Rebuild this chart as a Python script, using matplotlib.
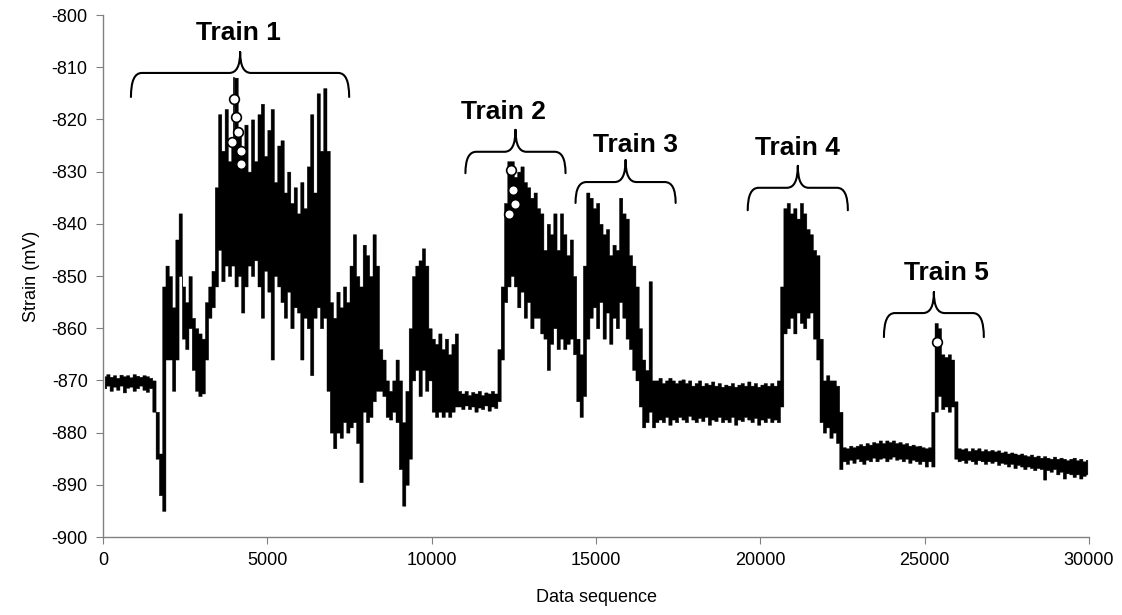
import numpy as np
import matplotlib
matplotlib.use("Agg")
import matplotlib.pyplot as plt
from matplotlib.path import Path
from matplotlib.patches import PathPatch

plt.rcParams['axes.unicode_minus'] = False

# ---- data: upper / lower envelope of the strain trace (mV) for each block of 100 samples ----
block = 100
hi_start = [-869.2, -868.8, -869.3, -869, -869.5, -868.9, -869.2, -869, -869.4, -868.8,
            -869.1, -869.3, -869, -869.2, -869.5, -870, -876, -884, -852, -848,
            -850, -856, -843, -838, -852, -855, -850, -858, -860, -861,
            -862, -855, -852, -849, -833, -819]
lo_start = [-871.5, -871, -872, -871.2, -871.8, -871, -872.3, -871.4, -871.2, -872,
            -871.5, -871, -871.8, -872.2, -871.5, -876, -885, -892, -895, -866,
            -866, -872, -866, -850, -862, -864, -860, -868, -872, -873,
            -872.5, -866, -858, -856, -852, -845]
hi_train1 = [-826, -818, -828, -824, -812, -822, -826, -821, -830, -820,
             -828, -819, -817, -827, -822, -818, -832, -825, -824, -834,
             -830, -836, -833, -838, -832, -837, -829, -819, -834, -815,
             -826, -814]
lo_train1 = [-851, -848, -850, -848, -852, -850, -857, -852, -848, -850,
             -847, -852, -858, -849, -853, -866, -850, -852, -855, -858,
             -853, -860, -856, -857, -866, -858, -860, -869, -858, -856,
             -860, -858]
hi_mid = [-826, -855, -858, -853, -856, -852, -855, -848, -842, -850,
          -852, -844, -846, -850, -842, -848, -864, -866, -870, -872,
          -870, -866, -870, -878, -872, -860, -850, -848, -847, -844.7,
          -848, -860, -862, -863, -861, -864, -862, -865, -863, -861]
lo_mid = [-872, -880, -883, -880, -881, -878, -880, -879, -878, -882,
          -889.5, -876, -878, -877, -874, -872, -872, -873, -877, -877.5,
          -876, -878, -887, -894, -890, -885, -870, -868, -873, -868,
          -872, -870, -876, -877, -876, -877, -876, -877, -876, -875]
hi_flat1 = [-872, -872.5, -872, -872.8, -872.2, -872.5, -872, -872.8, -872.3, -872.5,
            -872, -872.5]
lo_flat1 = [-875, -875.5, -874.8, -875.5, -875, -876, -875.2, -875.5, -874.8, -875.8,
            -875, -875.3]
hi_train2 = [-864, -852, -836, -828, -828, -831, -830, -829, -832, -833,
             -835, -834, -837, -838, -845, -840, -842, -838, -845, -838,
             -842, -846, -843, -850, -862, -865, -848, -834]
lo_train2 = [-874, -866, -855, -852, -850, -852, -856, -853, -858, -855,
             -860, -858, -858, -861, -862, -868, -863, -860, -864, -862,
             -864, -863, -862, -865, -874, -877, -873, -862]
hi_train3 = [-835, -837, -836, -840, -842, -841, -846, -844, -845, -835,
             -838, -839, -846, -848, -852, -860, -866, -868, -851, -870]
lo_train3 = [-858, -856, -860, -855, -862, -857, -863, -858, -860, -855,
             -858, -862, -864, -868, -870, -875, -879, -878, -876, -879]
hi_flat2 = [-870, -869.5, -870.5, -870, -869.5, -870, -870.5, -870, -869.8, -870.5,
            -870, -871, -870.5, -870, -871, -870.5, -870.8, -870.2, -871, -870.5,
            -871.2, -870.8, -871, -870.5, -871.2, -870.8, -870.5, -871, -870.2, -871,
            -870.5, -871.2, -870.8, -870.5, -871, -870.5, -871, -870]
lo_flat2 = [-878, -877.5, -878, -877, -878.5, -877.5, -878, -877, -877.5, -878,
            -876.8, -877.5, -878, -877.2, -877.8, -877, -878.5, -877.5, -877.8, -877,
            -878, -877.5, -878, -877, -878.5, -877.5, -877.8, -877, -877.5, -878,
            -877.2, -878.5, -877.5, -878, -877.2, -878, -877.5, -878]
hi_train4 = [-852, -837, -836, -838, -837, -839, -836, -838, -841, -842,
             -845, -846, -862, -870, -869, -870, -870, -871, -876]
lo_train4 = [-875, -861, -860, -858, -861, -857, -859, -860, -858, -857,
             -862, -866, -878, -880, -879, -881, -880, -882, -887]
hi_flat3 = [-882.8, -883, -882.5, -882.8, -882.5, -882.2, -882.5, -882, -882.3, -881.8,
            -882, -881.5, -882, -881.5, -881.8, -881.5, -882, -881.8, -882.2, -882,
            -882.5, -882.3, -882.6, -882.5, -882.8, -883, -882.8]
lo_flat3 = [-885.5, -886, -885.2, -885.8, -885, -885.5, -886, -885.2, -885.5, -884.8,
            -885.5, -885, -884.8, -885.5, -885, -884.6, -885.2, -885, -885.5, -885,
            -885.8, -885.2, -885.5, -886, -885.5, -886.5, -885.5]
hi_train5 = [-876, -859, -860, -865, -865.5, -865, -866, -874]
lo_train5 = [-886.5, -876, -873, -875.5, -875, -876, -875, -885]
hi_flat4 = [-883, -883.2, -883, -883.5, -883, -883.3, -883, -883.5, -883.2, -883.5,
            -883.3, -883.6, -883.4, -883.8, -883.6, -884, -883.8, -884, -884.2, -884,
            -884.3, -884.5, -884.2, -884.6, -884.4, -884.8, -884.5, -884.8, -885, -884.6,
            -885, -884.8, -885, -885.3, -885, -884.8, -885.3, -885, -885.5, -885.2]
lo_flat4 = [-885.5, -885.3, -885.8, -885.2, -885.5, -886, -885.3, -885.5, -886, -885.5,
            -885.8, -885.5, -886.2, -885.8, -886, -886.5, -886, -886.8, -886.2, -886.5,
            -887, -886.5, -886.8, -887.2, -886.8, -887, -889, -887.2, -887.5, -887,
            -888, -887.5, -888.8, -887.8, -888, -888.5, -888, -888.8, -888.3, -888]

strain_hi = np.array(hi_start + hi_train1 + hi_mid + hi_flat1 + hi_train2 +
                     hi_train3 + hi_flat2 + hi_train4 + hi_flat3 + hi_train5 + hi_flat4)
strain_lo = np.array(lo_start + lo_train1 + lo_mid + lo_flat1 + lo_train2 +
                     lo_train3 + lo_flat2 + lo_train4 + lo_flat3 + lo_train5 + lo_flat4)
sequence = np.arange(len(strain_hi)) * block + block / 2

# marked peaks (white circles)
peak_seq = [4000, 4040, 4110, 3930, 4200, 4200, 12400, 12480, 12550, 12350, 25390]
peak_strain = [-816, -819.6, -822.5, -824.3, -826, -828.5, -829.7, -833.5, -836.3, -838.2, -862.6]

train_labels = ["Train 1", "Train 2", "Train 3", "Train 4", "Train 5"]

# ---- figure ----
fig = plt.figure(figsize=(11.22, 6.15), dpi=100)
ax = fig.add_axes([0.0918, 0.1268, 0.8788, 0.8488])
fam = ['Liberation Sans', 'DejaVu Sans']

ax.fill_between(sequence, strain_lo, strain_hi, step='mid', color='black', lw=0.3)
ax.plot([4000, 4000], [-812, -830], color='black', lw=1.2)
ax.plot(peak_seq, peak_strain, ls='none', marker='o', ms=7, mfc='white', mec='black', mew=1.2)

ax.set_xlim(0, 30000)
ax.set_ylim(-900, -800)
ax.set_xticks(np.arange(0, 30001, 5000))
ax.set_yticks(np.arange(-900, -799, 10))
for s in ['top', 'right']:
    ax.spines[s].set_visible(False)
for s in ['left', 'bottom']:
    ax.spines[s].set_color('#808080')
    ax.spines[s].set_linewidth(1.0)
ax.tick_params(direction='out', length=5, color='#808080', labelsize=13, pad=6)
for lab in ax.get_xticklabels() + ax.get_yticklabels():
    lab.set_family(fam)
ax.set_xlabel('Data sequence', fontsize=13, family=fam, labelpad=14)
ax.set_ylabel('Strain (mV)', fontsize=13, family=fam, labelpad=8)


def brace(ax, x0, x1, xc, yline, yend, ycusp, r):
    verts = [(x0, yend), (x0, yline), (x0 + r, yline), (xc - r, yline),
             (xc, yline), (xc, ycusp),
             (xc, ycusp), (xc, yline), (xc + r, yline), (x1 - r, yline),
             (x1, yline), (x1, yend)]
    codes = [Path.MOVETO, Path.CURVE3, Path.CURVE3, Path.LINETO,
             Path.CURVE3, Path.CURVE3,
             Path.MOVETO, Path.CURVE3, Path.CURVE3, Path.LINETO,
             Path.CURVE3, Path.CURVE3]
    ax.add_patch(PathPatch(Path(verts, codes), fill=False, lw=1.5, ec='black',
                           capstyle='round', joinstyle='round'))


brace_specs = [
    (850, 7490, 4173, -811.1, -815.7, -807.1, 330),
    (11027, 14073, 12550, -826.2, -830.3, -822.0, 330),
    (14377, 17423, 15900, -832.0, -836.0, -827.8, 330),
    (19616, 22663, 21140, -833.1, -837.4, -828.9, 330),
    (23760, 26800, 25280, -857.1, -861.7, -853.1, 330),
]
label_pos = [(4110, -803.4), (12184, -818.6), (16205, -824.9), (21140, -825.5), (25650, -849.4)]
for spec, lab, (tx, ty) in zip(brace_specs, train_labels, label_pos):
    brace(ax, *spec)
    ax.text(tx, ty, lab, ha='center', va='center', fontsize=19, fontweight='bold', family=fam)

fig.savefig('out.png', dpi=100)
